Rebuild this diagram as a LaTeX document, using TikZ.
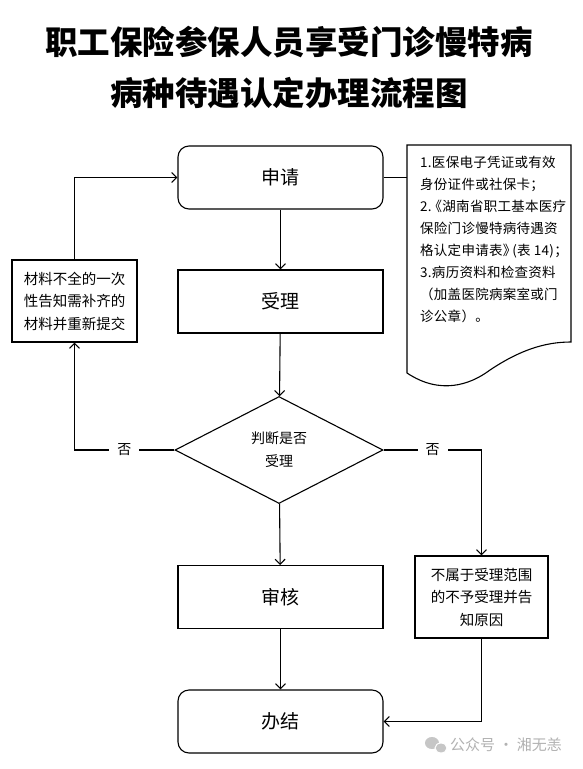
\documentclass[tikz,border=0pt]{standalone}
\usepackage{fontspec}
\setmainfont{Noto Sans CJK SC}
\usepackage{tikz}
\usetikzlibrary{arrows.meta,positioning,shapes.geometric}

\tikzset{
  box/.style={draw, line width=1.1pt, rectangle, minimum width=205pt, minimum height=63pt, font=\fontsize{19}{22}\selectfont},
  roundbox/.style={box, rounded corners=11pt},
  notebox/.style={draw, line width=1.1pt, rectangle, align=center, inner sep=0pt, font=\fontsize{14.5}{22.5}\selectfont},
  choice/.style={draw, line width=1.1pt, diamond, aspect=2, inner sep=0pt, minimum width=208pt, minimum height=107pt, align=center, font=\fontsize{14}{23}\selectfont},
  flow/.style={line width=1.1pt, -{Straight Barb[length=5pt,width=10pt,line width=1.1pt]}},
  link/.style={line width=1.1pt},
  nolabel/.style={fill=white, inner xsep=8pt, font=\fontsize{14}{16}\selectfont},
}

\begin{document}
\begin{tikzpicture}[x=1pt, y=-1pt]
  \useasboundingbox[fill=white] (0,0) rectangle (583,769);

  % Title
  \node[font=\fontsize{32.5}{36}\selectfont\bfseries] (title1) at (289,42) {职工保险参保人员享受门诊慢特病};
  \node[font=\fontsize{32.5}{36}\selectfont\bfseries] (title2) at (289,93) {病种待遇认定办理流程图};

  % Main steps
  \node[roundbox] (apply) at (280.5,177.5) {申请};
  \node[box] (accept) at (280.5,301.5) {受理};
  \node[choice] (judge) at (279,450) {判断是否\\受理};
  \node[box] (review) at (280.5,597) {审核};
  \node[roundbox] (finish) at (280.5,721.5) {办结};

  % Side notes
  \node[notebox, minimum width=125pt, minimum height=82pt] (resupply) at (74.5,301) {材料不全的一次\\性告知需补齐的\\材料并重新提交};
  \node[notebox, minimum width=133pt, minimum height=82pt] (reject) at (481.5,597) {不属于受理范围\\的不予受理并告\\知原因};

  % Document with required materials
  \draw[link] (407,145) -- (571,145) -- (571,342)
    .. controls (545,342) and (520,350) .. (490,370)
    .. controls (470,385) and (440,395) .. (407,373) -- cycle;
  \node[anchor=north west, align=left, inner sep=0pt, font=\fontsize{13.5}{22}\selectfont\addfontfeature{LetterSpace=2}] (doc) at (420,156)
    {1.医保电子凭证或有效\\身份证件或社保卡；\\2.\kern-3pt《湖南省职工基本医疗\\保险门诊慢特病待遇资\\格认定申请表》\kern-4pt(表 14)；\\3.病历资料和检查资料\\（加盖医院病案室或门\\诊公章）。};
  \coordinate (docedge) at (407,177.5);

  % Main flow
  \draw[flow] (apply) -- (accept);
  \draw[flow] (accept) -- (judge);
  \draw[flow] (judge) -- (review);
  \draw[flow] (review) -- (finish);
  \draw[link] (apply.east) -- (docedge);

  % Rejected branches
  \draw[flow] (judge.west) -- node[nolabel]{否} (judge.west -| resupply.south) -- (resupply.south);
  \draw[flow] (resupply.north) -- (resupply.north |- apply.west) -- (apply.west);
  \draw[flow] (judge.east) -- node[nolabel]{否} (judge.east -| reject.north) -- (reject.north);
  \draw[flow] (reject.south) -- (reject.south |- finish.east) -- (finish.east);

  % Watermark
  \fill[gray!45] (432,743) ellipse (7pt and 6pt);
  \fill[gray!45, draw=white, line width=1pt] (441,748) ellipse (6pt and 5pt);
  \node[anchor=west, text=gray!60, inner sep=0pt, font=\fontsize{15}{17}\selectfont] (mark) at (450,745) {公众号 · 湘无恙};
\end{tikzpicture}
\end{document}
